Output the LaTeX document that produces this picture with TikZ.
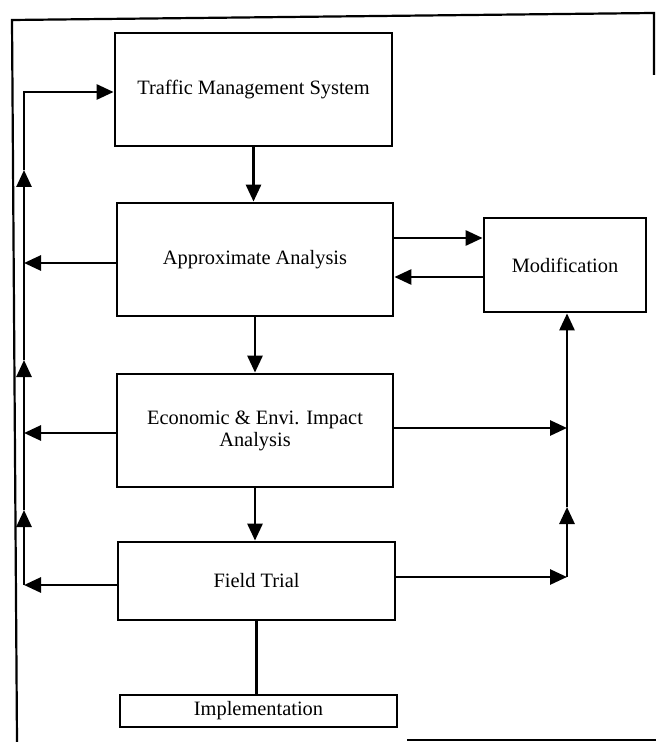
\documentclass[tikz,border=0pt]{standalone}
\usepackage{fontspec}
\setmainfont{Liberation Serif}
\usetikzlibrary{arrows.meta}
\begin{document}
\begin{tikzpicture}[x=0.5pt,y=-0.5pt,
  box/.style={draw, line width=1.4pt, inner sep=0pt, align=center, font=\fontsize{10.2}{11}\selectfont},
  arr/.style={line width=1.4pt, -{Triangle[length=8.5pt,width=7.5pt]}},
  ln/.style={line width=1.4pt},
  framel/.style={line width=1.1pt}]
\useasboundingbox (0,0) rectangle (656,742);
% page frame
\draw[framel] (17,742) -- (12,20) -- (654,13) -- (654,75);
\draw[framel] (407,740) -- (656,740);
% boxes
\node[box, minimum width=138.5pt, minimum height=56.5pt] (tms) at (253.5,89.5) {Traffic Management System};
\node[box, minimum width=138pt, minimum height=56.5pt] (app) at (255,259.5) {Approximate Analysis};
\node[box, minimum width=138pt, minimum height=56.5pt] (eco) at (255,430.5) {Economic \& Envi. Impact\\Analysis};
\node[box, minimum width=138.5pt, minimum height=39pt] (fld) at (256.5,581) {Field Trial};
\node[box, minimum width=138.5pt, minimum height=16pt] (imp) at (258.5,711) {Implementation};
\node[box, minimum width=81pt, minimum height=47pt] (mod) at (565,265) {Modification};
% coordinates
\coordinate (Ltop) at (24,92);
\coordinate (Lbot) at (24,585);
\coordinate (La) at (24,263);
\coordinate (Le) at (24,433);
\coordinate (Lm1) at (24,170);
\coordinate (Lm2) at (24,360);
\coordinate (Lm3) at (24,510);
\coordinate (Reco) at (567,428);
\coordinate (Rbot) at (567,577);
\coordinate (Rm) at (567,507);
% main flow
\draw[arr] (tms.south) -- (tms.south |- app.north);
\draw[arr] (app.south) -- (app.south |- eco.north);
\draw[arr] (eco.south) -- (eco.south |- fld.north);
\draw[ln] (fld.south) -- (fld.south |- imp.north);
% modification loop
\draw[arr] (app.east |- 0,238) -- (mod.west |- 0,238);
\draw[arr] (mod.west |- 0,277) -- (app.east |- 0,277);
\draw[arr] (eco.east |- Reco) -- (Reco);
\draw[arr] (fld.east |- Rbot) -- (Rbot);
\draw[arr] (Rbot) -- (Rm);
\draw[arr] (Rm) -- (Rm |- mod.south);
% left feedback
\draw[arr] (app.west |- La) -- (La);
\draw[arr] (eco.west |- Le) -- (Le);
\draw[arr] (fld.west |- Lbot) -- (Lbot);
\draw[arr] (Lbot) -- (Lm3);
\draw[arr] (Lm3) -- (Lm2);
\draw[arr] (Lm2) -- (Lm1);
\draw[arr] (Lm1) -- (Ltop) -- (tms.west |- Ltop);
\end{tikzpicture}
\end{document}
